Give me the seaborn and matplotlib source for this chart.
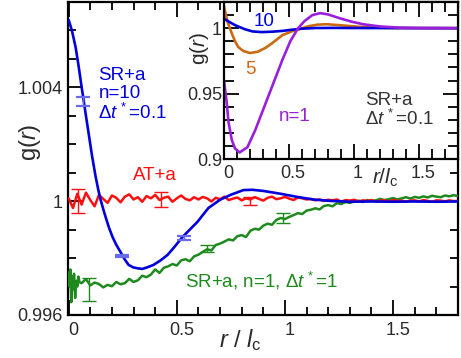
import numpy as np
import pandas as pd
import matplotlib
matplotlib.use("Agg")
import matplotlib.pyplot as plt
import matplotlib.transforms as mtransforms
import seaborn as sns

# ---------------- data ----------------
# main panel, SR+a n=10, dt*=0.1 (blue)
blue_r = [0.000, 0.015, 0.032, 0.046, 0.060, 0.069, 0.080, 0.092, 0.108, 0.125,
          0.137, 0.148, 0.160, 0.171, 0.186, 0.203, 0.220, 0.240, 0.258, 0.277,
          0.300, 0.320, 0.341, 0.365, 0.392, 0.425, 0.457, 0.490, 0.526, 0.560,
          0.595, 0.646, 0.700, 0.748, 0.808, 0.850, 0.900, 0.980, 1.057, 1.130,
          1.209, 1.300, 1.400, 1.500, 1.600, 1.700, 1.800]
blue_g = [1.00637, 1.00600, 1.00542, 1.00475, 1.00401, 1.00356, 1.00300, 1.00240, 1.00160, 1.00085,
          1.00040, 1.00004, 0.99972, 0.99944, 0.99908, 0.99874, 0.99847, 0.99821, 0.99797, 0.99776,
          0.99767, 0.99764, 0.99762, 0.99768, 0.99776, 0.99792, 0.99811, 0.99840, 0.99874, 0.99900,
          0.99927, 0.99976, 1.00005, 1.00022, 1.00039, 1.00040, 1.00036, 1.00026, 1.00015, 1.00006,
          1.00001, 0.99998, 0.99999, 0.99998, 0.99999, 0.99998, 0.99999]

# AT+a (red): deviation from 1, in units of 1e-5, sampled every 0.02 in r
red_dev = [10, -24, 26, -12, 30, 4, -18, 22, 8, -6,
           20, 12, -4, 16, 24, 6, 14, -2, 18, 10,
           22, 4, 12, 16, -2, 10, 20, 8, 3, 14,
           6, 15, 10, -1, 12, 7, 16, 4, 9, 13,
           3, 10, 6, 14, 8, 2, 12, 16, 7, 10,
           15, 9, 4, 13, 10, 6, 8, 3, 6, 1,
           5, 3, 6, -2, 4, 2, 5, -1, 3, 1,
           4, -2, 2, 3, -1, 4, 1, 2, -2, 2,
           3, -1, 4, 1, -2, 3, 2, -1, 3, 0,
           1]

# SR+a n=1 dt*=1 (green): g - 0.99 in units of 1e-5
green_r_start = [0.000, 0.004, 0.008, 0.012, 0.016, 0.020, 0.025, 0.030, 0.035, 0.040, 0.045, 0.050]
green_start = [750, 700, 760, 645, 735, 690, 745, 660, 720, 700, 735, 715]
# then every 0.02 from r = 0.06 to 1.80
green_rest = [712, 726, 704, 714, 709, 697, 706, 701, 716, 708,
              712, 727, 716, 722, 738, 733, 742, 760, 748, 766,
              771, 779, 774, 792, 796, 789, 806, 812, 822, 831,
              827, 846, 851, 858, 866, 862, 877, 881, 874, 896,
              903, 900, 914, 921, 917, 934, 941,
              937, 945, 951, 958, 955, 967, 970, 975, 971, 983,
              986, 982, 993, 990, 997, 994, 999, 1002, 997, 1004,
              1001, 1003, 1008, 1004, 1007, 1011, 1006, 1010, 1014, 1009,
              1015, 1012, 1017, 1013, 1019, 1016, 1014, 1020, 1017, 1021,
              1018]

# error bars in the main panel
eb_blue_r = [0.065, 0.245, 0.535]
eb_blue_g = [1.00350, 0.99808, 0.99871]
eb_blue_e = [0.00016, 0.00004, 0.00007]
eb_red_r = [0.042, 0.425, 0.840]
eb_red_g = [1.00000, 1.00005, 1.00000]
eb_red_e = [0.00042, 0.00026, 0.00014]
eb_green_r = [0.092, 0.640, 0.990]
eb_green_g = [0.99690, 0.99835, 0.99941]
eb_green_e = [0.00040, 0.00012, 0.00018]

# inset curves (SR+a, dt*=0.1)
in1_r = [0.00, 0.02, 0.035, 0.06, 0.085, 0.12, 0.18, 0.24, 0.31, 0.38, 0.45, 0.51,
         0.57, 0.62, 0.68, 0.74, 0.80, 0.89, 0.98, 1.07, 1.20, 1.35, 1.50, 1.80]
in1_g = [0.960, 0.944, 0.928, 0.9145, 0.908, 0.905, 0.909, 0.922, 0.940, 0.958, 0.976, 0.990,
         1.000, 1.0055, 1.0100, 1.0115, 1.0105, 1.0076, 1.0050, 1.0030, 1.0013, 1.0004, 1.0001, 1.0000]
in5_r = [0.00, 0.01, 0.03, 0.06, 0.085, 0.11, 0.15, 0.20, 0.26, 0.32, 0.37, 0.45,
         0.52, 0.585, 0.65, 0.72, 0.79, 0.90, 1.02, 1.15, 1.30, 1.80]
in5_g = [1.017, 1.012, 1.004, 0.996, 0.990, 0.9855, 0.9825, 0.981, 0.982, 0.985, 0.9885, 0.9947,
         0.9975, 0.9995, 1.0015, 1.0027, 1.0030, 1.0022, 1.0012, 1.0005, 1.0001, 1.0000]
in10_r = [0.00, 0.04, 0.085, 0.16, 0.22, 0.29, 0.37, 0.45, 0.52, 0.60, 0.70, 0.85, 1.00, 1.80]
in10_g = [1.0072, 1.0048, 1.0023, 0.9992, 0.9975, 0.9970, 0.9973, 0.9979, 0.9988, 0.9996,
          1.0001, 1.0002, 1.0001, 1.0000]

main_xticks = [0, 0.5, 1, 1.5]
main_xlabels = ["0", "0.5", "1", "1.5"]
main_yticks = [0.996, 1.0, 1.004]
main_ylabels = ["0.996", "1", "1.004"]
in_yticks = [0.9, 0.95, 1.0]
in_ylabels = ["0.9", "0.95", "1"]

# ---------------- style ----------------
sns.set_theme(style="ticks")
plt.rcParams["font.family"] = ["Liberation Sans", "DejaVu Sans"]
plt.rcParams["mathtext.fontset"] = "custom"
plt.rcParams["mathtext.rm"] = "Liberation Sans"
plt.rcParams["mathtext.it"] = "Liberation Sans:italic"
plt.rcParams["mathtext.bf"] = "Liberation Sans:bold"

C_BLUE = "#0000dd"
C_RED = "#ff1010"
C_GREEN = "#1e8a1e"
C_ORANGE = "#cc6a14"
C_PURPLE = "#9a1fdc"
C_TXT = "#333333"
C_LAB = "#2a2a2a"

W, H = 461, 358
fig = plt.figure(figsize=(W / 100, H / 100), dpi=100)
ax = fig.add_axes([68 / W, 1 - 315 / H, 390 / W, 313 / H])

grid = np.round(np.linspace(0, 1.8, 91), 4)
grid_rest = np.round(np.linspace(0.06, 1.8, 88), 4)
df_red = pd.DataFrame({"r": grid, "g": 1.0 + np.array(red_dev) * 1e-5})
df_green = pd.DataFrame({"r": np.concatenate([green_r_start, grid_rest]),
                         "g": 0.99 + np.array(green_start + green_rest) * 1e-5})
df_blue = pd.DataFrame({"r": blue_r, "g": blue_g})

sns.lineplot(data=df_green, x="r", y="g", ax=ax, color=C_GREEN, lw=1.8,
             estimator=None, sort=False, zorder=3)
sns.lineplot(data=df_red, x="r", y="g", ax=ax, color=C_RED, lw=1.8,
             estimator=None, sort=False, zorder=3)
sns.lineplot(data=df_blue, x="r", y="g", ax=ax, color=C_BLUE, lw=1.9,
             estimator=None, sort=False, zorder=4)

ax.errorbar(eb_blue_r, eb_blue_g, yerr=eb_blue_e, fmt="none", ecolor="#6a6af0",
            elinewidth=1.0, capsize=4.8, capthick=1.6, zorder=5)
ax.errorbar(eb_red_r, eb_red_g, yerr=eb_red_e, fmt="none", ecolor=C_RED,
            elinewidth=1.0, capsize=5.2, capthick=1.0, zorder=5)
ax.errorbar(eb_green_r, eb_green_g, yerr=eb_green_e, fmt="none", ecolor=C_GREEN,
            elinewidth=1.0, capsize=5.2, capthick=1.0, zorder=5)

ax.set_xlim(-0.003, 1.8)
ax.set_ylim(0.996, 1.007)
ax.set_xticks(main_xticks)
ax.set_xticklabels(main_xlabels)
ax.set_yticks(main_yticks)
ax.set_yticklabels(main_ylabels)
ax.xaxis.set_minor_locator(matplotlib.ticker.MultipleLocator(0.1))
ax.yaxis.set_minor_locator(matplotlib.ticker.MultipleLocator(0.001))
ax.tick_params(which="both", direction="in", top=True, right=True, color="black",
               labelsize=13, labelcolor=C_LAB)
ax.tick_params(which="major", length=11, width=1.3)
ax.tick_params(which="minor", length=6, width=1.3)
ax.tick_params(axis="x", pad=5)
ax.tick_params(axis="y", pad=4)
for s in ax.spines.values():
    s.set_linewidth(1.6)
    s.set_color("black")
shift_main = mtransforms.ScaledTranslation(5 / 100, 0, fig.dpi_scale_trans)
for lab in ax.get_xticklabels():
    lab.set_transform(lab.get_transform() + shift_main)

ax.set_xlabel(r"$\it{r}$ / $\it{l}_{\mathrm{c}}$", fontsize=17, color=C_LAB, va="center")
ax.xaxis.set_label_coords(0.441, -0.080)
ax.set_ylabel(r"g($\it{r}$)", fontsize=17, color=C_LAB, va="center")
ax.yaxis.set_label_coords(-0.097, 0.553)

ax.text(0.138, 1.00470, "SR+a\nn=10\n" + r"$\Delta\it{t}^{\,*}$=0.1", color=C_BLUE,
        fontsize=13.5, ha="left", va="top", linespacing=1.05)
ax.text(0.40, 1.00092, "AT+a", color=C_RED, fontsize=13.5, ha="center", va="center")
ax.text(0.54, 0.99718, r"SR+a, n=1, $\Delta\it{t}^{\,*}$=1", color=C_GREEN,
        fontsize=13.5, ha="left", va="center")

# ---------------- inset ----------------
axi = fig.add_axes([224 / W, 1 - 159 / H, 234 / W, 157 / H])
axi.set_facecolor("white")
df_1 = pd.DataFrame({"r": in1_r, "g": in1_g})
df_5 = pd.DataFrame({"r": in5_r, "g": in5_g})
df_10 = pd.DataFrame({"r": in10_r, "g": in10_g})
sns.lineplot(data=df_5, x="r", y="g", ax=axi, color=C_ORANGE, lw=1.9, estimator=None, sort=False)
sns.lineplot(data=df_10, x="r", y="g", ax=axi, color=C_BLUE, lw=1.9, estimator=None, sort=False)
sns.lineplot(data=df_1, x="r", y="g", ax=axi, color=C_PURPLE, lw=1.9, estimator=None, sort=False)

axi.set_xlim(0, 1.8)
axi.set_ylim(0.9, 1.02)
axi.set_xticks(main_xticks)
axi.set_xticklabels(main_xlabels)
axi.set_yticks(in_yticks)
axi.set_yticklabels(in_ylabels)
axi.xaxis.set_minor_locator(matplotlib.ticker.MultipleLocator(0.1))
axi.yaxis.set_minor_locator(matplotlib.ticker.MultipleLocator(0.01))
axi.tick_params(which="both", direction="in", top=True, right=True, color="black",
                labelsize=13, labelcolor=C_LAB)
axi.tick_params(which="major", length=11, width=1.3)
axi.tick_params(which="minor", length=7, width=1.3)
axi.tick_params(axis="x", pad=4)
axi.tick_params(axis="y", pad=1.5)
for s in axi.spines.values():
    s.set_linewidth(1.6)
    s.set_color("black")
shift_in = mtransforms.ScaledTranslation(4 / 100, 0, fig.dpi_scale_trans)
for lab in axi.get_xticklabels():
    lab.set_transform(lab.get_transform() + shift_in)
axi.set_xlabel(r"$\it{r}$/$\it{l}_{\mathrm{c}}$", fontsize=15, color=C_LAB, va="center")
axi.xaxis.set_label_coords(0.688, -0.121)
axi.set_ylabel(r"g($\it{r}$)", fontsize=15, color=C_LAB, va="center")
axi.yaxis.set_label_coords(-0.103, 0.707)

axi.text(0.31, 1.0053, "10", color=C_BLUE, fontsize=13.5, ha="center", va="center")
axi.text(0.20, 0.9687, "5", color=C_ORANGE, fontsize=13.5, ha="center", va="center")
axi.text(0.54, 0.9328, "n=1", color=C_PURPLE, fontsize=13.5, ha="center", va="center")
axi.text(1.085, 0.9374, "SR+a\n" + r"$\Delta\it{t}^{\,*}$=0.1", color=C_TXT,
         fontsize=13.5, ha="left", va="center", linespacing=1.0)

fig.savefig("out.png", dpi=100)
